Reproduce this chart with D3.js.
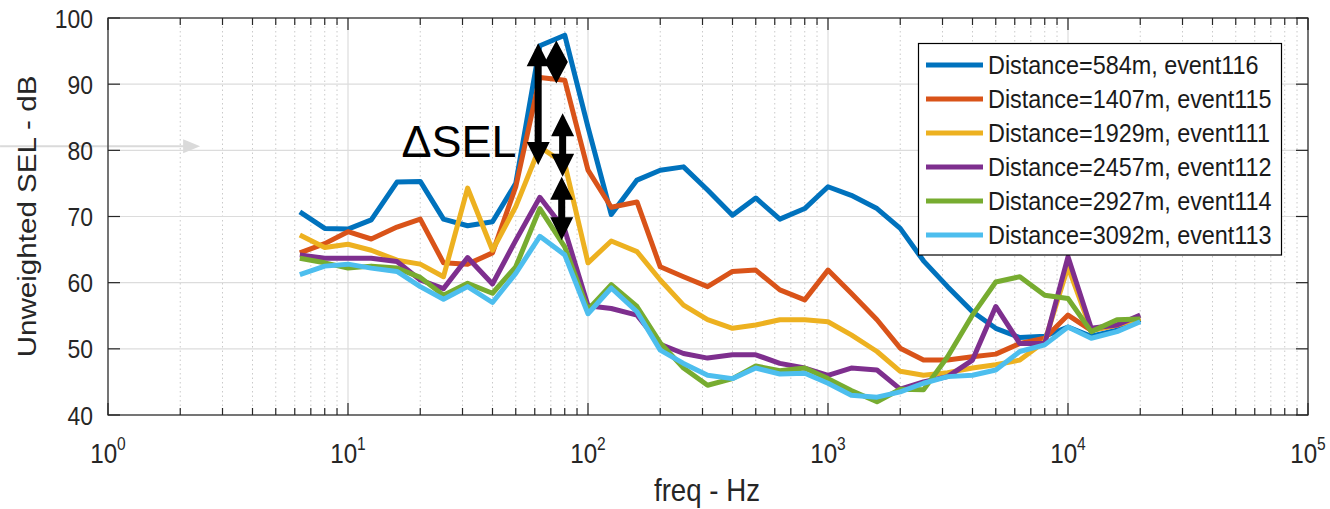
<!DOCTYPE html>
<html>
<head>
<meta charset="utf-8">
<script src="https://cdn.jsdelivr.net/npm/d3@7"></script>
<style>
  html, body { margin: 0; padding: 0; background: #fff; }
  svg { display: block; font-family: "Liberation Sans", Arial, Helvetica, sans-serif; }
</style>
</head>
<body>
<svg id="chart" width="1330" height="509"></svg>
<script>
// ---------------- DATA ----------------
const freqs = [6.3, 8, 10, 12.5, 16, 20, 25, 31.5, 40, 50, 63, 80, 100, 125, 160, 200, 250, 315, 400, 500,
  630, 800, 1000, 1250, 1600, 2000, 2500, 3150, 4000, 5000, 6300, 8000, 10000, 12500, 16000, 20000];

const sel584 = [70.7, 68.2, 68.1, 69.5, 75.2, 75.3, 69.6, 68.6, 69.2, 75.0, 95.8, 97.4, 83.5, 70.3, 75.5, 77.0, 77.5, 74.0, 70.2, 72.8,
  69.6, 71.2, 74.5, 73.2, 71.2, 68.2, 63.3, 59.4, 55.6, 53.1, 51.7, 51.9, 53.3, 51.9, 52.8, 54.4];
const sel1407 = [64.5, 65.9, 67.7, 66.6, 68.4, 69.6, 63.0, 62.8, 64.5, 74.5, 91.0, 90.6, 77.0, 71.4, 72.2, 62.4, 60.9, 59.4, 61.7, 61.9,
  58.9, 57.4, 61.9, 58.4, 54.4, 50.1, 48.3, 48.3, 48.8, 49.2, 50.8, 51.6, 55.1, 52.8, 53.6, 54.6];
const sel1929 = [67.2, 65.3, 65.8, 64.9, 63.4, 62.8, 60.9, 74.3, 64.9, 71.5, 80.5, 78.0, 63.0, 66.3, 64.7, 60.4, 56.6, 54.4, 53.1, 53.6,
  54.4, 54.4, 54.1, 52.1, 49.6, 46.6, 46.0, 46.4, 47.1, 47.6, 48.3, 51.1, 62.4, 52.8, 53.6, 54.6];
const sel2457 = [64.2, 63.7, 63.7, 63.7, 63.2, 60.4, 59.1, 63.8, 59.8, 66.4, 72.9, 68.0, 56.5, 56.1, 55.1, 50.7, 49.3, 48.6, 49.1, 49.1,
  47.8, 47.1, 46.0, 47.1, 46.8, 43.9, 45.0, 45.8, 48.3, 56.4, 50.8, 50.8, 63.9, 53.1, 53.6, 55.1];
const sel2927 = [63.7, 63.0, 62.2, 62.5, 62.2, 60.8, 58.1, 59.9, 58.4, 62.4, 71.2, 65.4, 55.9, 59.7, 56.4, 50.9, 47.1, 44.5, 45.5, 47.4,
  46.7, 47.1, 45.5, 43.7, 42.0, 43.9, 43.8, 48.8, 55.1, 60.1, 60.9, 58.1, 57.6, 52.6, 54.4, 54.5];
const sel3092 = [61.2, 62.5, 62.8, 62.2, 61.7, 59.4, 57.5, 59.4, 57.0, 61.4, 67.0, 64.2, 55.3, 59.2, 55.6, 49.8, 47.8, 46.0, 45.5, 47.1,
  46.2, 46.3, 44.8, 43.0, 42.7, 43.5, 44.8, 45.8, 46.0, 46.8, 49.6, 50.6, 53.3, 51.6, 52.6, 54.1];

const seriesNames = ["Distance=584m, event116", "Distance=1407m, event115", "Distance=1929m, event111",
  "Distance=2457m, event112", "Distance=2927m, event114", "Distance=3092m, event113"];

const yTicks = [40, 50, 60, 70, 80, 90, 100];
const xTickExps = [0, 1, 2, 3, 4, 5];

// Delta-SEL annotation arrows (freq, top dB, bottom dB)
const arrowFreq = [62, 73.8, 78.4, 77.7];
const arrowTop = [96.2, 96.6, 85.6, 76.0];
const arrowBottom = [77.8, 90.1, 76.0, 66.4];
const annotationText = "ΔSEL";

// ---------------- STYLE ----------------
const colors = ["#0072BD", "#D95319", "#EDB120", "#7E2F8E", "#77AC30", "#4DBEEE"];
const axisColor = "#262626";
const sx = 0.865; // horizontal glyph compression of the reference

const svg = d3.select("#chart");
const x = d3.scaleLog().domain([1, 1e5]).range([108, 1308]);
const y = d3.scaleLinear().domain([40, 100]).range([415, 18]);

const values = [sel584, sel1407, sel1929, sel2457, sel2927, sel3092];
const series = values.map((v, i) => ({ name: seriesNames[i], color: colors[i], pts: freqs.map((f, j) => [f, v[j]]) }));

// ---------- grid ----------
const minorTicks = [];
for (let d = 0; d < 5; d++) for (let k = 2; k <= 9; k++) minorTicks.push(k * Math.pow(10, d));
const majorTicks = xTickExps.map(e => Math.pow(10, e));

const grid = svg.append("g");
grid.selectAll(".xmin").data(minorTicks).join("line")
  .attr("x1", d => x(d)).attr("x2", d => x(d)).attr("y1", y(40)).attr("y2", y(100))
  .attr("stroke", "#cacaca").attr("stroke-width", 1).attr("stroke-dasharray", "1.5,3");
grid.selectAll(".xmaj").data(majorTicks).join("line")
  .attr("x1", d => x(d)).attr("x2", d => x(d)).attr("y1", y(40)).attr("y2", y(100))
  .attr("stroke", "#dcdcdc").attr("stroke-width", 1.2);
grid.selectAll(".ymaj").data(yTicks).join("line")
  .attr("x1", x(1)).attr("x2", x(1e5)).attr("y1", d => y(d)).attr("y2", d => y(d))
  .attr("stroke", "#dcdcdc").attr("stroke-width", 1.2);

// ---------- gray faint arrow at left ----------
const ga = svg.append("g");
const gy = y(80.6);
ga.append("line").attr("x1", x(0.355)).attr("x2", x(2.2)).attr("y1", gy).attr("y2", gy)
  .attr("stroke", "#dadada").attr("stroke-width", 2);
ga.append("path").attr("d", `M${x(2.42)},${gy} L${x(2.42) - 17},${gy - 7} L${x(2.42) - 17},${gy + 7} Z`).attr("fill", "#dadada");

// ---------- lines ----------
const line = d3.line().x(d => x(d[0])).y(d => y(d[1]));
svg.append("g").selectAll("path").data(series).join("path")
  .attr("d", d => line(d.pts)).attr("fill", "none").attr("stroke", d => d.color)
  .attr("stroke-width", 5).attr("stroke-linejoin", "round").attr("stroke-linecap", "butt");

// ---------- axes box & ticks ----------
const ax = svg.append("g").attr("stroke", axisColor).attr("stroke-width", 1.2);
ax.append("rect").attr("x", x(1)).attr("y", y(100)).attr("width", x(1e5) - x(1)).attr("height", y(40) - y(100)).attr("fill", "none");
[[y(40), -1], [y(100), 1]].forEach(([yy, dir]) => {
  ax.selectAll(null).data(majorTicks).join("line").attr("x1", d => x(d)).attr("x2", d => x(d))
    .attr("y1", yy).attr("y2", yy + dir * 12);
  ax.selectAll(null).data(minorTicks).join("line").attr("x1", d => x(d)).attr("x2", d => x(d))
    .attr("y1", yy).attr("y2", yy + dir * 7);
});
[[x(1), 1], [x(1e5), -1]].forEach(([xx, dir]) => {
  ax.selectAll(null).data(yTicks).join("line").attr("y1", d => y(d)).attr("y2", d => y(d))
    .attr("x1", xx).attr("x2", xx + dir * 12);
});

// ---------- tick labels ----------
const yl = svg.append("g").selectAll("g").data(yTicks).join("g")
  .attr("transform", d => `translate(93,${y(d)}) scale(${sx},1)`);
yl.append("text").attr("text-anchor", "end").attr("dy", "0.36em").attr("font-size", 26.5)
  .attr("fill", axisColor).text(d => d);

const xl = svg.append("g").selectAll("g").data(xTickExps).join("g")
  .attr("transform", d => `translate(${x(Math.pow(10, d))},463) scale(${sx},1)`);
const xt = xl.append("text").attr("text-anchor", "middle").attr("fill", axisColor);
xt.append("tspan").attr("font-size", 28).text("10");
xt.append("tspan").attr("font-size", 18).attr("dy", -13).text(d => d);

// ---------- axis titles ----------
svg.append("g").attr("transform", `translate(707,501) scale(${sx},1)`)
  .append("text").attr("text-anchor", "middle").attr("font-size", 32).attr("fill", axisColor).text("freq - Hz");
svg.append("g").attr("transform", `translate(36,216.5) scale(${sx},1) rotate(-90)`)
  .append("text").attr("text-anchor", "middle").attr("font-size", 29.6).attr("fill", axisColor).text("Unweighted SEL - dB");

// ---------- legend ----------
const lg = svg.append("g");
lg.append("rect").attr("x", 918.5).attr("y", 43.5).attr("width", 363).attr("height", 211.5)
  .attr("fill", "#fff").attr("stroke", "#000").attr("stroke-width", 1.2);
const rows = lg.selectAll("g.row").data(series).join("g").attr("class", "row")
  .attr("transform", (d, i) => `translate(0,${65 + i * 34})`);
rows.append("line").attr("x1", 926).attr("x2", 983).attr("y1", 0).attr("y2", 0)
  .attr("stroke", d => d.color).attr("stroke-width", 5);
rows.append("g").attr("transform", `translate(988,0) scale(0.9,1)`)
  .append("text").attr("dy", "0.36em").attr("font-size", 26).attr("fill", "#1a1a1a").text(d => d.name);

// ---------- ΔSEL arrows ----------
function dblArrow(xc, yt, yb) {
  const hw = 11.5, sw = 3.5;
  const hl = Math.min(23, (yb - yt) / 2);
  return `M${xc},${yt} L${xc + hw},${yt + hl} L${xc + sw},${yt + hl} L${xc + sw},${yb - hl} L${xc + hw},${yb - hl}` +
    ` L${xc},${yb} L${xc - hw},${yb - hl} L${xc - sw},${yb - hl} L${xc - sw},${yt + hl} L${xc - hw},${yt + hl} Z`;
}
svg.append("g").selectAll("path").data(arrowFreq).join("path")
  .attr("d", (f, i) => dblArrow(x(f), y(arrowTop[i]), y(arrowBottom[i])))
  .attr("fill", "#000");

svg.append("text").attr("x", x(16.7)).attr("y", y(79.0)).attr("font-size", 45).attr("fill", "#000")
  .text(annotationText);
</script>
</body>
</html>
